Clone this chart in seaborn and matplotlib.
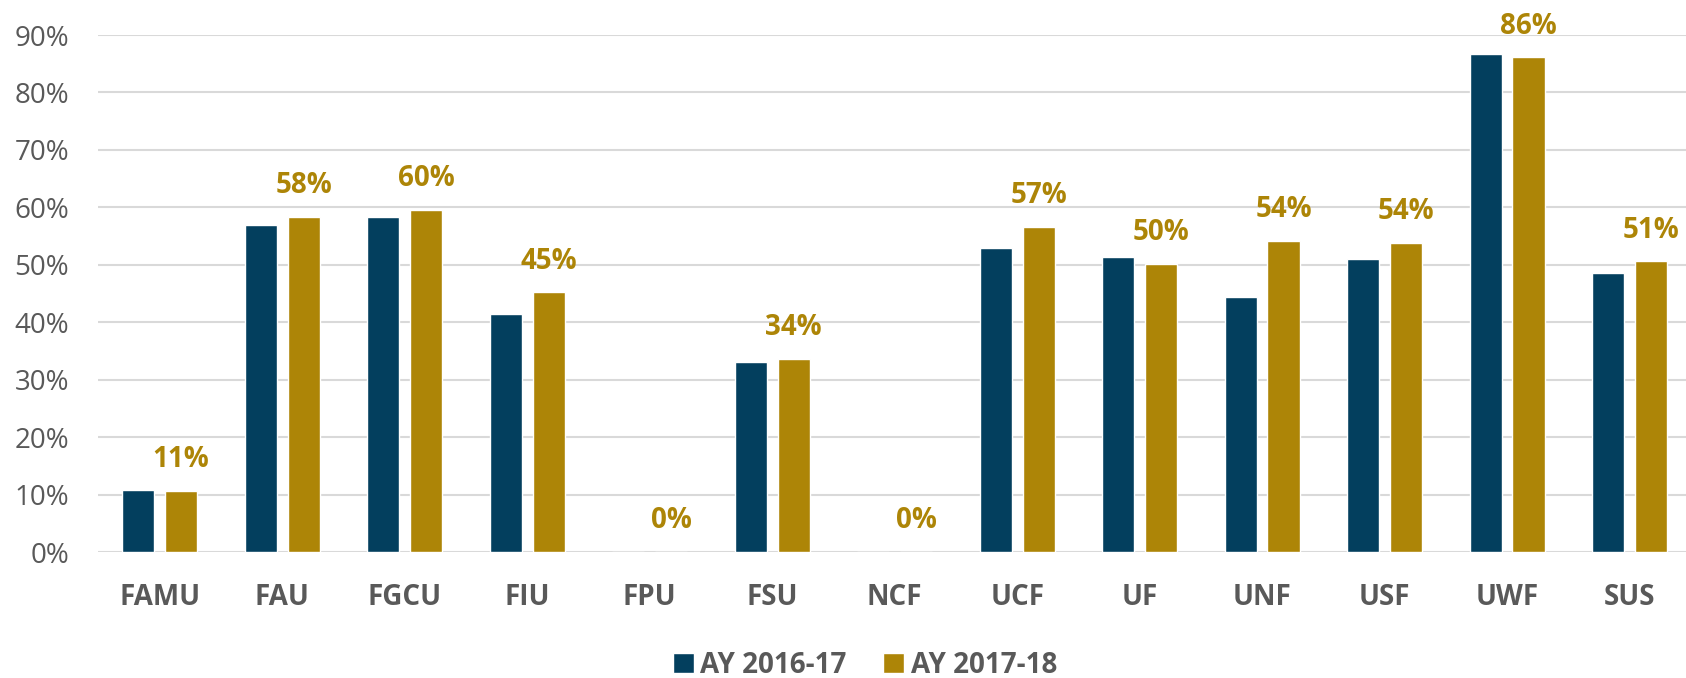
import matplotlib
matplotlib.use("Agg")
import matplotlib.pyplot as plt
import pandas as pd
import seaborn as sns
from matplotlib.ticker import FuncFormatter


SCHOOLS = ["FAMU", "FAU", "FGCU", "FIU", "FPU", "FSU", "NCF",
           "UCF", "UF", "UNF", "USF", "UWF", "SUS"]
AY_2016_17 = [10.8, 56.9, 58.4, 41.5, 0.0, 33.0, 0.0,
              52.9, 51.4, 44.4, 51.1, 86.7, 48.6]
AY_2017_18 = [10.6, 58.4, 59.6, 45.2, 0.0, 33.6, 0.0,
              56.6, 50.2, 54.2, 53.8, 86.1, 50.6]
YEARS = ["AY 2016-17", "AY 2017-18"]
Y_TICKS = [0, 10, 20, 30, 40, 50, 60, 70, 80, 90]

BLUE = "#033f5e"
GOLD = "#ad8507"
GREY = "#595959"
GRID = "#d9d9d9"


def main():
    df = pd.DataFrame({
        "School": SCHOOLS * 2,
        "Rate": AY_2016_17 + AY_2017_18,
        "Year": [YEARS[0]] * len(SCHOOLS) + [YEARS[1]] * len(SCHOOLS),
    })

    sns.set_theme(style="white")
    plt.rcParams["font.family"] = ["Open Sans", "DejaVu Sans"]

    fig = plt.figure(figsize=(16.86, 6.78), dpi=100)
    ax = fig.add_axes([0.0584, 0.1858, 0.9445, 0.7625])

    sns.barplot(data=df, x="School", y="Rate", hue="Year", order=SCHOOLS,
                hue_order=YEARS, palette=[BLUE, GOLD], saturation=1,
                width=0.697, gap=0.25, errorbar=None, ax=ax)

    ax.set_ylim(0, 90)
    ax.set_xlim(-0.5, len(SCHOOLS) - 0.5)
    ax.set_yticks(Y_TICKS)
    ax.yaxis.set_major_formatter(FuncFormatter(lambda v, _: f"{v:.0f}%"))
    ax.grid(axis="y", color=GRID, linewidth=1.5)
    ax.set_axisbelow(True)
    for spine in ax.spines.values():
        spine.set_visible(False)
    ax.set_xlabel("")
    ax.set_ylabel("")
    ax.tick_params(axis="y", length=0, pad=21, labelsize=20, labelcolor=GREY)
    ax.tick_params(axis="x", length=0, pad=22, labelsize=20, labelcolor=GREY)
    for lbl in ax.get_xticklabels():
        lbl.set_fontweight("bold")

    gold_bars = ax.containers[1]
    ax.bar_label(gold_bars, labels=[f"{v:.0f}%" for v in AY_2017_18],
                 padding=12, fontsize=20, fontweight="bold", color=GOLD,
                 clip_on=False)

    handles, labels = ax.get_legend_handles_labels()
    ax.get_legend().remove()
    fig.legend(handles, labels, loc="center", bbox_to_anchor=(0.513, 0.019),
               ncol=2, frameon=False, handlelength=0.75, handleheight=0.75,
               handletextpad=0.25, columnspacing=1.3,
               prop={"size": 20, "weight": "bold"}, labelcolor=GREY)

    fig.savefig("out.png", dpi=100)
    plt.close(fig)


if __name__ == "__main__":
    main()
